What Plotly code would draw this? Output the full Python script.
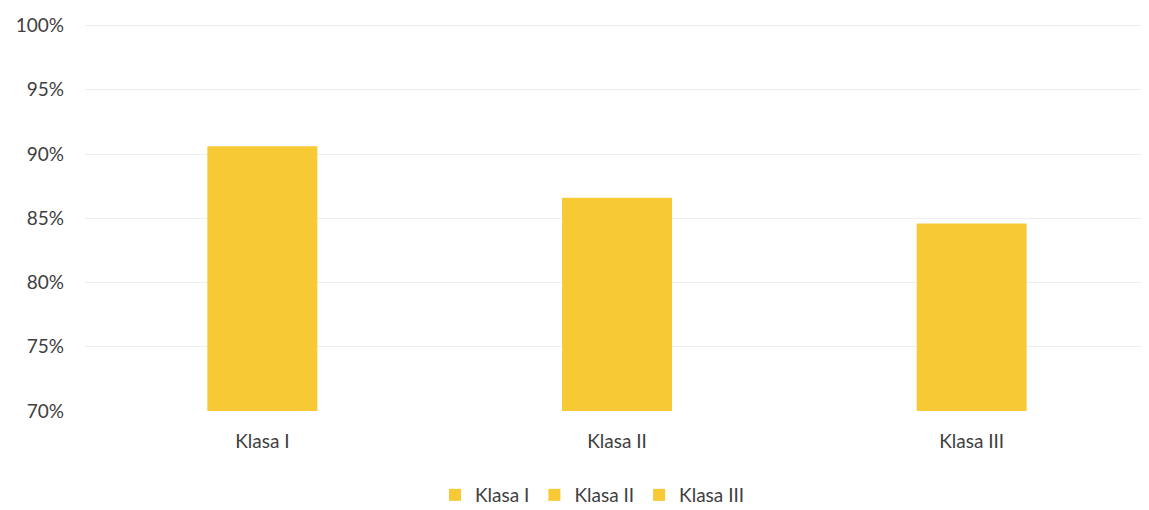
import plotly.graph_objects as go

# data
categories = ["Klasa I", "Klasa II", "Klasa III"]
values = [0.906, 0.866, 0.846]
tick_vals = [0.70, 0.75, 0.80, 0.85, 0.90, 0.95, 1.00]
tick_text = ["70%", "75%", "80%", "85%", "90%", "95%", "100%"]

bar_color = "#F6C935"
font_family = "Lato, 'Open Sans', sans-serif"

fig = go.Figure()
for cat, val in zip(categories, values):
    fig.add_trace(go.Bar(
        x=[cat], y=[val], name=cat,
        marker=dict(color=bar_color, line=dict(width=0)),
        width=0.31,
    ))

# the page body adds an 8px margin, so the figure is a bit smaller than the window
fig.update_layout(
    width=1141, height=502,
    barmode="overlay",
    plot_bgcolor="white", paper_bgcolor="white",
    margin=dict(l=77, r=0, t=15, b=99, autoexpand=False),
    font=dict(family=font_family, size=19, color="#404040"),
    legend=dict(orientation="h", x=0.477, xanchor="center", y=-0.2165, yanchor="middle",
                font=dict(size=19, color="#404040"),
                traceorder="normal"),
    showlegend=True,
)
fig.update_xaxes(range=[-0.5, 2.5], showgrid=False, showline=False, ticks="",
                 ticklabelstandoff=17, automargin=False,
                 tickfont=dict(size=19, color="#404040"))
fig.update_yaxes(range=[0.70, 1.002], tickvals=tick_vals, ticktext=tick_text,
                 showgrid=True, gridcolor="#EDEDED", gridwidth=1,
                 zeroline=False, showline=False, ticks="", ticklabelstandoff=20,
                 automargin=False,
                 tickfont=dict(size=19, color="#404040"))

fig.write_html("out.html")
